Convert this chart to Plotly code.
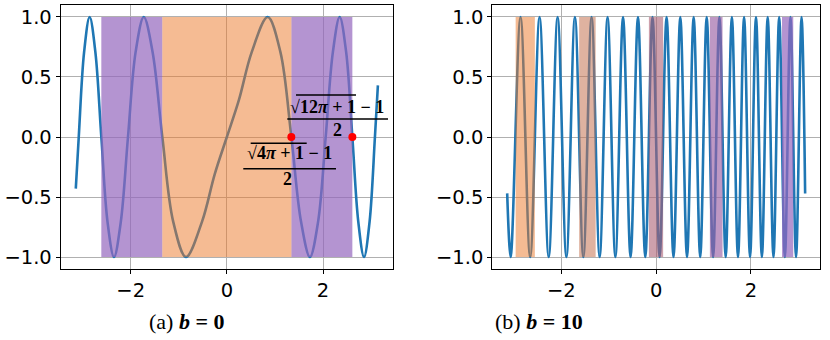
import plotly.graph_objects as go

# ---- panel (a): b = 0, key points (zeros, extrema, quarter points)
a_x = [-3.1416, -3.080, -2.9686, -2.8535, -2.7342, -2.6105, -2.4815, -2.3468, -2.2053,
       -2.056, -1.8975, -1.7277, -1.5438, -1.3416, -1.1144, -0.8494, -0.5176, -0.25,
       0.0,
       0.25, 0.5176, 0.8494, 1.1144, 1.3416, 1.5438, 1.7277, 1.8975, 2.056, 2.2053,
       2.3468, 2.4815, 2.6105, 2.7342, 2.8535, 2.9686, 3.080, 3.1416]
a_y = [-0.43, 0.0, 0.707, 1.0, 0.707, 0.0, -0.707, -1.0, -0.707,
       0.0, 0.707, 1.0, 0.707, 0.0, -0.707, -1.0, -0.707, -0.307,
       0.0,
       0.307, 0.707, 1.0, 0.707, 0.0, -0.707, -1.0, -0.707, 0.0, 0.707,
       1.0, 0.707, 0.0, -0.707, -1.0, -0.707, 0.0, 0.43]

# ---- panel (b): b = 10, end points plus every peak / trough
b_x = [-3.1416, -3.068, -2.860, -2.657, -2.459, -2.266, -2.078, -1.893, -1.713, -1.536,
       -1.362, -1.192, -1.0245, -0.860, -0.6985, -0.5396, -0.383, -0.229, -0.077,
       0.0725, 0.220, 0.3655, 0.509, 0.651, 0.791, 0.929, 1.066, 1.201, 1.334, 1.466,
       1.597, 1.726, 1.854, 1.980, 2.1055, 2.2296, 2.352, 2.474, 2.5945, 2.714, 2.832,
       2.950, 3.066, 3.1416]
b_y = [-0.47] + [(-1.0 if i % 2 == 0 else 1.0) for i in range(42)] + [-0.47]

# shaded intervals
a_purple = [(-2.6105, -1.3416), (1.3416, 2.6105)]
a_orange = [(-1.3416, 1.3416)]
b_bands = [(-2.963, -2.558), (-1.624, -1.276), (-0.153, 0.147), (1.133, 1.400), (2.654, 2.891)]

# marked zeros
zeros_x = [1.3416, 2.6105]
zeros_y = [0.0, 0.0]

x_ticks = [-2, 0, 2]
x_ticklabels = ["\u22122", "0", "2"]
y_ticks = [-1.0, -0.5, 0.0, 0.5, 1.0]
y_ticklabels = ["\u22121.0", "\u22120.5", "0.0", "0.5", "1.0"]
captions = ["(a) <b><i>b</i> = 0</b>", "(b) <b><i>b</i> = 10</b>"]

BLUE = "#1f77b4"
PURPLE = "rgba(148,103,189,0.70)"
ORANGE = "rgba(235,120,40,0.50)"
B_COLORS = [ORANGE, "rgba(197,115,82,0.55)", "rgba(172,97,117,0.60)",
            "rgba(155,97,164,0.65)", PURPLE]

fig = go.Figure()


def band(x0, x1, color, xa, ya):
    fig.add_trace(go.Scatter(
        x=[x0, x0, x1, x1, x0], y=[-1, 1, 1, -1, -1],
        mode="lines", fill="toself", fillcolor=color,
        line=dict(width=0), hoverinfo="skip", showlegend=False,
        xaxis=xa, yaxis=ya))


# --- panel (a)
fig.add_trace(go.Scatter(x=a_x, y=a_y, mode="lines",
                         line=dict(color=BLUE, width=2.6, shape="spline"),
                         showlegend=False, xaxis="x", yaxis="y"))
for x0, x1 in a_purple:
    band(x0, x1, PURPLE, "x", "y")
for x0, x1 in a_orange:
    band(x0, x1, ORANGE, "x", "y")
fig.add_trace(go.Scatter(x=zeros_x, y=zeros_y, mode="markers",
                         marker=dict(color="red", size=8),
                         showlegend=False, xaxis="x", yaxis="y"))

# --- panel (b)
fig.add_trace(go.Scatter(x=b_x, y=b_y, mode="lines",
                         line=dict(color=BLUE, width=2.6, shape="spline"),
                         showlegend=False, xaxis="x2", yaxis="y2"))
for (x0, x1), c in zip(b_bands, B_COLORS):
    band(x0, x1, c, "x2", "y2")

# --- axes
ax_common = dict(showline=True, mirror=True, linecolor="black", linewidth=1,
                 ticks="outside", ticklen=4, tickwidth=1, tickcolor="black",
                 showgrid=True, gridcolor="#b0b0b0", gridwidth=1, zeroline=False,
                 tickfont=dict(family="DejaVu Sans", size=19.5, color="black"))
xa = dict(ax_common, range=[-3.456, 3.456], tickvals=x_ticks, ticktext=x_ticklabels)
ya = dict(ax_common, range=[-1.1, 1.1], tickvals=y_ticks, ticktext=y_ticklabels)

fig.update_layout(
    width=830, height=340, autosize=False,
    margin=dict(l=0, r=0, t=0, b=0),
    plot_bgcolor="white", paper_bgcolor="white",
    xaxis=dict(xa, domain=[0.0731, 0.4735], anchor="y"),
    yaxis=dict(ya, domain=[0.2088, 0.9853], anchor="x"),
    xaxis2=dict(xa, domain=[0.5931, 0.9880], anchor="y2"),
    yaxis2=dict(ya, domain=[0.2088, 0.9853], anchor="x2"),
)

# --- fraction labels of the marked zeros (panel a)
frac_font = dict(family="Liberation Serif", size=18, color="black")
fig.add_annotation(x=2.291, y=0.2525, xref="x", yref="y", showarrow=False,
                   text="<b>\u221a12<i>\u03c0</i> + 1 \u2212 1</b>", font=frac_font)
fig.add_annotation(x=2.297, y=0.058, xref="x", yref="y", showarrow=False,
                   text="<b>2</b>", font=frac_font)
fig.add_annotation(x=1.297, y=-0.136, xref="x", yref="y", showarrow=False,
                   text="<b>\u221a4<i>\u03c0</i> + 1 \u2212 1</b>", font=frac_font)
fig.add_annotation(x=1.257, y=-0.3525, xref="x", yref="y", showarrow=False,
                   text="<b>2</b>", font=frac_font)
for x0, x1, y in [(1.257, 3.352, 0.15), (1.438, 2.686, 0.35),
                  (0.342, 2.27, -0.264), (0.496, 1.661, -0.0525)]:
    fig.add_shape(type="line", xref="x", yref="y", x0=x0, x1=x1, y0=y, y1=y,
                  line=dict(color="black", width=1.5))

# --- captions
for cx, txt in zip([186 / 830, 539 / 830], captions):
    fig.add_annotation(x=cx, y=1 - 321 / 340, xref="paper", yref="paper",
                       xanchor="center", yanchor="middle",
                       showarrow=False, text=txt,
                       font=dict(family="Liberation Serif", size=22, color="black"))

fig.write_html("out.html", config={"displayModeBar": False},
               post_script="document.body.style.margin='0';")
